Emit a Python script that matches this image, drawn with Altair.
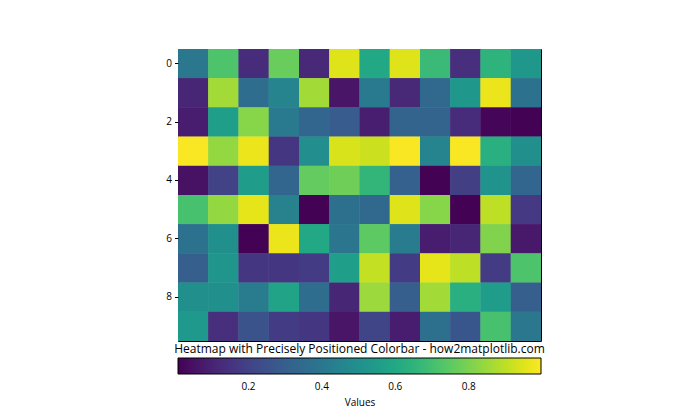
import altair as alt
import pandas as pd

rows = list(range(10))
cols = list(range(12))
values = [
    [0.40, 0.72, 0.13, 0.77, 0.12, 0.95, 0.60, 0.95, 0.68, 0.14, 0.65, 0.53],
    [0.11, 0.86, 0.36, 0.45, 0.86, 0.06, 0.41, 0.12, 0.34, 0.53, 0.97, 0.38],
    [0.08, 0.56, 0.82, 0.41, 0.33, 0.29, 0.09, 0.32, 0.32, 0.13, 0.02, 0.01],
    [0.99, 0.84, 0.97, 0.16, 0.49, 0.94, 0.92, 0.99, 0.45, 0.99, 0.63, 0.50],
    [0.05, 0.20, 0.55, 0.33, 0.76, 0.78, 0.66, 0.31, 0.01, 0.19, 0.51, 0.33],
    [0.71, 0.84, 0.96, 0.44, 0.01, 0.37, 0.34, 0.95, 0.82, 0.01, 0.90, 0.17],
    [0.38, 0.50, 0.01, 0.97, 0.60, 0.39, 0.75, 0.42, 0.08, 0.11, 0.81, 0.07],
    [0.30, 0.52, 0.16, 0.16, 0.18, 0.56, 0.91, 0.18, 0.96, 0.90, 0.18, 0.72],
    [0.50, 0.50, 0.42, 0.58, 0.36, 0.11, 0.85, 0.30, 0.86, 0.63, 0.55, 0.30],
    [0.54, 0.14, 0.26, 0.18, 0.16, 0.06, 0.21, 0.08, 0.37, 0.27, 0.71, 0.40],
]
cbar_ticks = [0.2, 0.4, 0.6, 0.8]
color_domain = [0.008, 0.997]
title_text = "Heatmap with Precisely Positioned Colorbar - how2matplotlib.com"

df = pd.DataFrame(
    [{"row": r, "col": c, "value": values[r][c]} for r in rows for c in cols]
)

font = "Open Sans"

base = alt.Chart(df).mark_rect(strokeWidth=0).encode(
    x=alt.X("col:O", scale=alt.Scale(paddingInner=0, paddingOuter=0), axis=None),
    y=alt.Y(
        "row:O",
        scale=alt.Scale(paddingInner=0, paddingOuter=0),
        axis=alt.Axis(
            values=[0, 2, 4, 6, 8],
            title=None,
            labelAngle=0,
            labelFont=font,
            labelFontSize=10,
            labelColor="black",
            tickColor="black",
            tickSize=3.5,
            labelPadding=3,
            domain=False,
            grid=False,
        ),
    ),
    color=alt.Color(
        "value:Q",
        scale=alt.Scale(scheme="viridis", domain=color_domain, clamp=True),
        legend=alt.Legend(
            orient="none",
            legendX=0,
            legendY=309,
            direction="horizontal",
            gradientLength=363,
            gradientThickness=16,
            gradientStrokeColor="black",
            gradientStrokeWidth=1,
            values=cbar_ticks,
            format=".1f",
            labelOverlap=False,
            labelFont=font,
            labelFontSize=10,
            labelColor="black",
            labelOffset=8,
            title="Values",
            titleOrient="bottom",
            titleAnchor="middle",
            titleFont=font,
            titleFontSize=10,
            titleFontWeight="normal",
            titleColor="black",
            titlePadding=6,
        ),
    ),
)

chart = (
    alt.layer(base, base)
    .properties(
        width=363,
        height=292,
        autosize=alt.AutoSizeParams(type="none"),
        padding={"left": 178, "top": 49, "right": 159, "bottom": 79},
        title=alt.TitleParams(
            text=title_text,
            orient="bottom",
            anchor="middle",
            offset=2,
            dy=-66,
            font=font,
            fontSize=12,
            fontWeight="normal",
            color="black",
        ),
    )
    .configure_view(stroke="black", strokeWidth=1)
)

chart.save("out.html", embed_options={"renderer": "svg", "actions": False})
